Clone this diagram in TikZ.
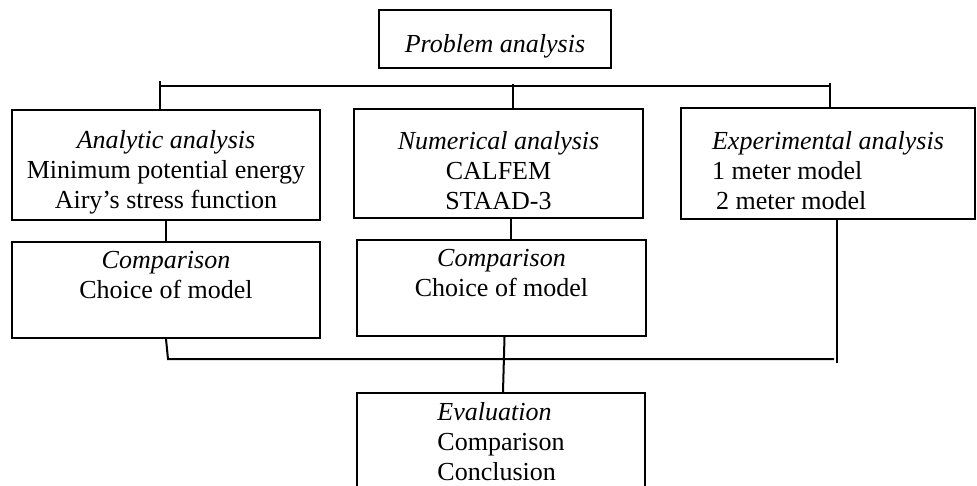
\documentclass[tikz,border=0pt]{standalone}
\usepackage{fontspec}
\setmainfont{Liberation Serif}
\usetikzlibrary{positioning}
\newcommand{\topgap}{\rule{0pt}{33pt}}

\begin{document}
\begin{tikzpicture}[
    x=1pt, y=-1pt,
    box/.style = {draw, line width=2pt, inner sep=0pt, align=center, font=\fontsize{26}{30}\selectfont},
    link/.style = {line width=2pt}
]
\useasboundingbox (0,0) rectangle (977,486);
% Top node
\node[box, minimum width=232pt, minimum height=58pt] (problem) at (495,39) {\topgap\textit{Problem analysis}};
% Three analysis boxes
\node[box, minimum width=308pt, minimum height=110pt] (analytic) at (166,165)
    {\topgap\textit{Analytic analysis}\\Minimum potential energy\\Airy’s stress function};
\node[box, minimum width=289pt, minimum height=109pt] (numerical) at (498.5,163.5)
    {\topgap\textit{Numerical analysis}\\CALFEM\\STAAD-3};
\node[box, minimum width=294pt, minimum height=111pt, align=left] (experimental) at (828,163.5)
    {\topgap\textit{Experimental analysis}\\1 meter model\\\hspace*{4pt}2 meter model};
% Comparison boxes
\node[box, minimum width=308pt, minimum height=96pt, below=20pt of analytic] (comp1)
    {\textit{Comparison}\\Choice of model\\~};
\node[box, minimum width=289pt, minimum height=96pt] (comp2) at (501.5,288)
    {\textit{Comparison}\\Choice of model\\~};
% Evaluation box
\node[box, minimum width=288pt, minimum height=97pt, align=left] (evaluation) at (501,441.5)
    {\textit{Evaluation}\\Comparison\\Conclusion};

% Upper bus
\coordinate (busL) at (160,86);
\coordinate (busR) at (830,86);
\draw[link] (busL) -- (busR);
\draw[link] ([yshift=5pt]busL) -- (busL |- analytic.north);
\draw[link] ([xshift=14.5pt]numerical.north) -- ([xshift=14.5pt,yshift=2pt]numerical.north |- busL);
\draw[link] (experimental.north -| busR) -- ([yshift=3pt]busR);

% Links to comparison boxes
\draw[link] (analytic.south) -- (comp1.north);
\draw[link] ([xshift=12pt]numerical.south) -- ([xshift=12pt]numerical.south |- comp2.north);

% Lower bus
\coordinate (botL) at (168,359);
\coordinate (botR) at (834,359);
\coordinate (expEnd) at (837,363);
\draw[link] (comp1.south) -- (botL) -- (botR);
\draw[link] ([xshift=9pt]experimental.south) -- (expEnd);
\draw[link] ([xshift=3pt]comp2.south) -- ([xshift=2pt]evaluation.north);
\end{tikzpicture}
\end{document}
